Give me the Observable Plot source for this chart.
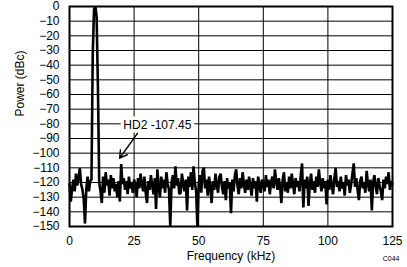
<!DOCTYPE html>
<html>
<head>
<meta charset="utf-8">
<script src="https://cdn.jsdelivr.net/npm/d3@7"></script>
<script src="https://cdn.jsdelivr.net/npm/@observablehq/plot@0.6"></script>
<style>
  html, body { margin: 0; padding: 0; background: #fff; }
  #chart { width: 407px; height: 267px; overflow: hidden; }
</style>
</head>
<body>
<div id="chart"></div>
<script>
const binStepKHz = 0.5;
const powerDBc = [
  -121, -133, -124, -118, -126, -114, -122, -117, -110, -121,
  -125, -131, -148, -124, -116, -126, -119, -118, -32, -2,
  0, -7, -55, -120, -126, -134, -116, -127, -113, -122,
  -118, -129, -115, -124, -117, -126, -121, -130, -119, -133,
  -107.45, -121, -117, -125, -119, -128, -116, -124, -120, -127,
  -118, -122, -130, -117, -124, -114, -121, -126, -116, -127,
  -134, -119, -125, -115, -122, -128, -117, -138, -111, -123,
  -130, -116, -124, -118, -127, -113, -121, -125, -150, -120,
  -115, -124, -109, -122, -117, -128, -127, -114, -121, -126,
  -118, -139, -116, -123, -113, -125, -109, -120, -126, -150,
  -121, -115, -127, -112, -110, -124, -118, -129, -116, -123,
  -134, -119, -125, -114, -122, -127, -116, -114, -123, -128,
  -119, -132, -117, -124, -120, -141, -118, -126, -115, -111,
  -122, -128, -117, -124, -113, -121, -127, -118, -125, -116,
  -123, -129, -117, -124, -119, -133, -116, -122, -127, -118,
  -121, -126, -115, -123, -118, -128, -120, -116, -124, -111,
  -119, -125, -117, -123, -134, -118, -113, -126, -120, -127,
  -116, -124, -114, -121, -128, -117, -123, -119, -126, -115,
  -107, -137, -118, -124, -116, -136, -121, -114, -125, -119,
  -127, -116, -123, -111, -120, -126, -117, -124, -119, -135,
  -118, -125, -115, -122, -128, -117, -110, -123, -119, -126,
  -116, -124, -120, -129, -115, -122, -118, -127, -121, -114,
  -107, -123, -117, -125, -132, -119, -116, -124, -120, -127,
  -112, -121, -126, -118, -139, -120, -115, -123, -128, -117,
  -122, -126, -132, -118, -124, -116, -121, -113, -125, -119,
  -121
];

// Harmonic annotation
const harmonicNames = ["HD2"];
const harmonicFreqKHz = [20];
const harmonicPowerDBc = [-107.45];

// Axis ticks
const xTicks = [0, 25, 50, 75, 100, 125];
const yTicks = [0, -10, -20, -30, -40, -50, -60, -70, -80, -90, -100, -110, -120, -130, -140, -150];

const xLabel = "Frequency (kHz)";
const yLabel = "Power (dBc)";
const figureCode = "C044";

const spectrum = powerDBc.map((p, i) => ({ freq: i * binStepKHz, power: p }));
const harmonics = harmonicNames.map((n, i) => ({
  name: n, freq: harmonicFreqKHz[i], power: harmonicPowerDBc[i],
  label: `${n} ${harmonicPowerDBc[i].toFixed(2)}`
}));

const chart = Plot.plot({
  width: 407,
  height: 267,
  marginLeft: 69,
  marginRight: 15,
  marginTop: 6,
  marginBottom: 41,
  style: { fontFamily: "'Liberation Sans', Arial, Helvetica, sans-serif", fontSize: "12px", background: "#fff", color: "#000", overflow: "visible" },
  x: { domain: [0, 125] },
  y: { domain: [-150, 0] },
  marks: [
    Plot.gridX(xTicks, { stroke: "#000", strokeOpacity: 1, strokeWidth: 1 }),
    Plot.gridY(yTicks, { stroke: "#000", strokeOpacity: 1, strokeWidth: 1 }),
    Plot.axisX(xTicks, { tickSize: 0, tickPadding: 10, label: null, tickFormat: d => String(d) }),
    Plot.axisY(yTicks, { tickSize: 0, tickPadding: 10, label: null }),
    Plot.line(spectrum, { x: "freq", y: "power", stroke: "#000", strokeWidth: 2.6, strokeLinejoin: "miter", strokeMiterlimit: 2 }),
    Plot.text(harmonics, {
      x: d => d.freq + 14, y: d => d.power + 26.5, text: "label",
      fill: "#000", stroke: "#fff", strokeWidth: 7, fontSize: 12
    }),
    Plot.arrow(harmonics, {
      x1: d => d.freq + 6.3, y1: d => d.power + 21,
      x2: d => d.freq - 0.6, y2: d => d.power + 4,
      stroke: "#000", strokeWidth: 1.4, headLength: 9, bend: 0
    }),
    Plot.frame({ stroke: "#000", strokeWidth: 2 }),
    Plot.text([xLabel], { frameAnchor: "bottom", dy: 33, fontSize: 12 }),
    Plot.text([yLabel], { frameAnchor: "left", dx: -49, rotate: -90, fontSize: 12 }),
    Plot.text([figureCode], { frameAnchor: "bottom-right", dx: 7, dy: 34, fontSize: 7, textAnchor: "end" })
  ]
});
document.getElementById("chart").appendChild(chart);
</script>
</body>
</html>
